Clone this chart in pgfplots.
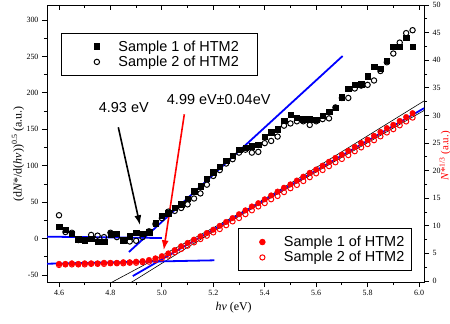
\documentclass[border=0pt]{standalone}
\usepackage{fontspec}
\setmainfont{Liberation Serif}
\newfontfamily\arial{Liberation Sans}
\usepackage{pgfplots}
\pgfplotsset{compat=1.18}
\usepackage{pgfplotstable}
\usetikzlibrary{arrows.meta}

\pgfplotstableread{
x sq ci
4.600 16 32
4.625 12 9
4.650 7 8
4.675 -1 -2
4.700 -2 -3
4.725 0 5
4.750 -4 4
4.775 -4 2
4.800 6 8
4.825 7 2
4.850 -2 -3
4.875 3 -4
4.900 8 -3
4.925 7 2
4.950 9 10
4.975 21 20
5.000 31 28
5.025 35 37
5.050 42 38
5.075 47 42
5.100 55 47
5.125 65 55
5.150 72 62
5.175 82 74
5.200 91 86
5.225 99 94
5.250 107 103
5.275 114 109
5.300 122 118
5.325 125 122
5.350 127 118
5.375 129 119
5.400 140 131
5.425 146 134
5.450 150 140
5.475 162 155
5.500 170 158
5.525 166 161
5.550 164 161
5.575 164 156
5.600 163 161
5.625 169 164
5.650 174 165
5.675 180 180
5.700 194 193
5.725 206 193
5.750 211 206
5.775 212 210
5.800 223 211
5.825 236 217
5.850 233 230
5.875 244 242
5.900 263 254
5.925 263 269
5.950 276 282
5.975 263 286
}\blackdata

\pgfplotstableread{
x f o
4.600 3.1 2.9
4.625 3.1 3.0
4.650 3.2 3.0
4.675 3.1 3.0
4.700 3.2 3.0
4.725 3.2 3.1
4.750 3.2 3.1
4.775 3.3 3.1
4.800 3.3 3.2
4.825 3.3 3.2
4.850 3.4 3.2
4.875 3.4 3.3
4.900 3.5 3.3
4.925 3.6 3.4
4.950 3.8 3.5
4.975 4.1 3.8
5.000 4.5 4.1
5.025 5.0 4.6
5.050 5.6 5.2
5.075 6.3 5.8
5.100 6.9 6.4
5.125 7.5 7.0
5.150 8.1 7.6
5.175 8.7 8.2
5.200 9.3 8.8
5.225 10.0 9.4
5.250 10.7 10.1
5.275 11.4 10.8
5.300 12.1 11.4
5.325 12.8 12.1
5.350 13.5 12.8
5.375 14.1 13.5
5.400 14.8 14.1
5.425 15.5 14.8
5.450 16.2 15.4
5.475 16.9 16.1
5.500 17.5 16.8
5.525 18.2 17.4
5.550 18.9 18.1
5.575 19.6 18.8
5.600 20.2 19.5
5.625 20.9 20.1
5.650 21.6 20.8
5.675 22.3 21.5
5.700 22.9 22.1
5.725 23.6 22.8
5.750 24.3 23.5
5.775 25.0 24.2
5.800 25.6 24.8
5.825 26.3 25.5
5.850 27.0 26.2
5.875 27.7 26.9
5.900 28.3 27.5
5.925 29.0 28.2
5.950 29.7 28.9
5.975 30.4 29.6
}\reddata

\pgfplotstableread{
x up lo
4.78 -0.86 -3.10
4.90 2.13 0.30
5.00 4.63 3.20
5.10 7.13 6.10
5.20 9.64 8.95
5.35 13.51 13.10
5.50 17.69 17.10
5.60 20.55 19.75
5.70 23.42 22.40
5.80 26.30 25.05
5.90 29.18 27.70
6.02 32.63 30.90
}\bands

\pgfplotsset{
  base/.style={
    scale only axis, width=377bp, height=277bp,
    xmin=4.5533, xmax=6.0194,
    axis line style={line width=0.9pt},
    every tick/.style={black, line width=0.8pt},
    major tick length=5bp, minor tick length=3bp,
    tick label style={font=\fontsize{8}{9}\selectfont},
    /pgf/number format/assume math mode=true,
    label style={font=\fontsize{12}{14}\selectfont},
    legend style={draw=black, line width=0.8pt, fill=white,
      font=\arial\fontsize{14.5}{16}\selectfont,
      inner ysep=7.2bp, row sep=3.4bp,
      cells={anchor=west},
      nodes={inner sep=0pt, text depth=0.15em}},
    legend image code/.code={\draw[##1] plot coordinates {(16bp,0bp)}; \path (0bp,0bp) (37bp,0bp);},
  }
}

\begin{document}
\begin{tikzpicture}
\path[use as bounding box] (-47bp,-42bp) rectangle (403bp,282bp);

% left axis
\begin{axis}[base,
  ymin=-59.6, ymax=320.6,
  xtick={4.6,4.8,5.0,5.2,5.4,5.6,5.8,6.0}, minor x tick num=1,
  ytick={-50,0,50,100,150,200,250,300}, minor y tick num=1,
  xtick pos=bottom, ytick pos=left, tick align=outside,
  xticklabel style={/pgf/number format/.cd, fixed, fixed zerofill, precision=1},
  xlabel={\textit{hν} (eV)},
  xlabel style={at={(rel axis cs:0.495,-0.094)}, anchor=center},
  ylabel={(d\textit{N}*/d(\textit{hν}))\textsuperscript{0.5} (a.u.)},
  ylabel style={at={(rel axis cs:-0.077,0.462)}, anchor=center},
  legend style={at={(0.0371,0.899)}, anchor=north west, inner xsep=19bp},
]
\addplot[only marks, mark=square*, mark size=2.7bp, black] table[x=x,y=sq]{\blackdata};
\addlegendentry{Sample 1 of HTM2}
\addplot[only marks, mark=o, mark size=2.7bp, black, line width=1pt] table[x=x,y=ci]{\blackdata};
\addlegendentry{Sample 2 of HTM2}
\addplot[blue, line width=1.8pt, forget plot] coordinates {(4.5533,2.6) (5.0,0.8)};
\addplot[blue, line width=1.8pt, forget plot] coordinates {(4.872,-18.4) (5.703,250.6)};
\addplot[black, line width=1.6pt, -{Latex[length=10bp,width=7bp]}, forget plot] coordinates {(4.8306,152.8) (4.915,18.3)};
\addplot[red, line width=1.6pt, -{Latex[length=10bp,width=7bp]}, forget plot] coordinates {(5.0873,170.6) (5.0072,-16.1)};
\node[font=\arial\fontsize{14.5}{16}\selectfont] at (axis cs:4.852,179.2) {4.93 eV};
\node[font=\arial\fontsize{14.5}{16}\selectfont, anchor=west, inner sep=0pt] at (axis cs:5.019,190.2) {4.99 eV±0.04eV};
\end{axis}

% right axis
\begin{axis}[base,
  ymin=-0.18, ymax=50,
  axis x line=none, axis y line*=right,
  ytick={0,5,10,15,20,25,30,35,40,45,50}, minor y tick num=1,
  tick align=outside,
  ylabel={\textit{N}*\textsuperscript{1/3} (a.u.)},
  ylabel style={at={(rel axis cs:1.056,0.455)}, anchor=center, red, font=\fontsize{11}{13}\selectfont},
  legend style={at={(0.9674,0.0397)}, anchor=south east, inner xsep=7bp},
]
\addplot[only marks, mark=*, mark size=2.8bp, red] table[x=x,y=f]{\reddata};
\addlegendentry{Sample 1 of HTM2}
\addplot[only marks, mark=o, mark size=2.6bp, red, line width=1pt] table[x=x,y=o]{\reddata};
\addlegendentry{Sample 2 of HTM2}
\addplot[black, line width=0.6pt, forget plot] table[x=x,y=up]{\bands};
\addplot[black, line width=0.6pt, forget plot] table[x=x,y=lo]{\bands};
\addplot[blue, line width=1.8pt, forget plot] coordinates {(4.5533,3.13) (5.204,3.75)};
\addplot[blue, line width=1.8pt, forget plot] coordinates {(4.887,0.9) (6.0194,31.3)};
\end{axis}

% top ticks
\begin{axis}[base,
  ymin=0, ymax=1,
  axis y line=none, axis x line*=top,
  xtick={4.6,4.8,5.0,5.2,5.4,5.6,5.8,6.0}, minor x tick num=1,
  tick align=inside, xticklabels={},
]
\end{axis}
\end{tikzpicture}
\end{document}
